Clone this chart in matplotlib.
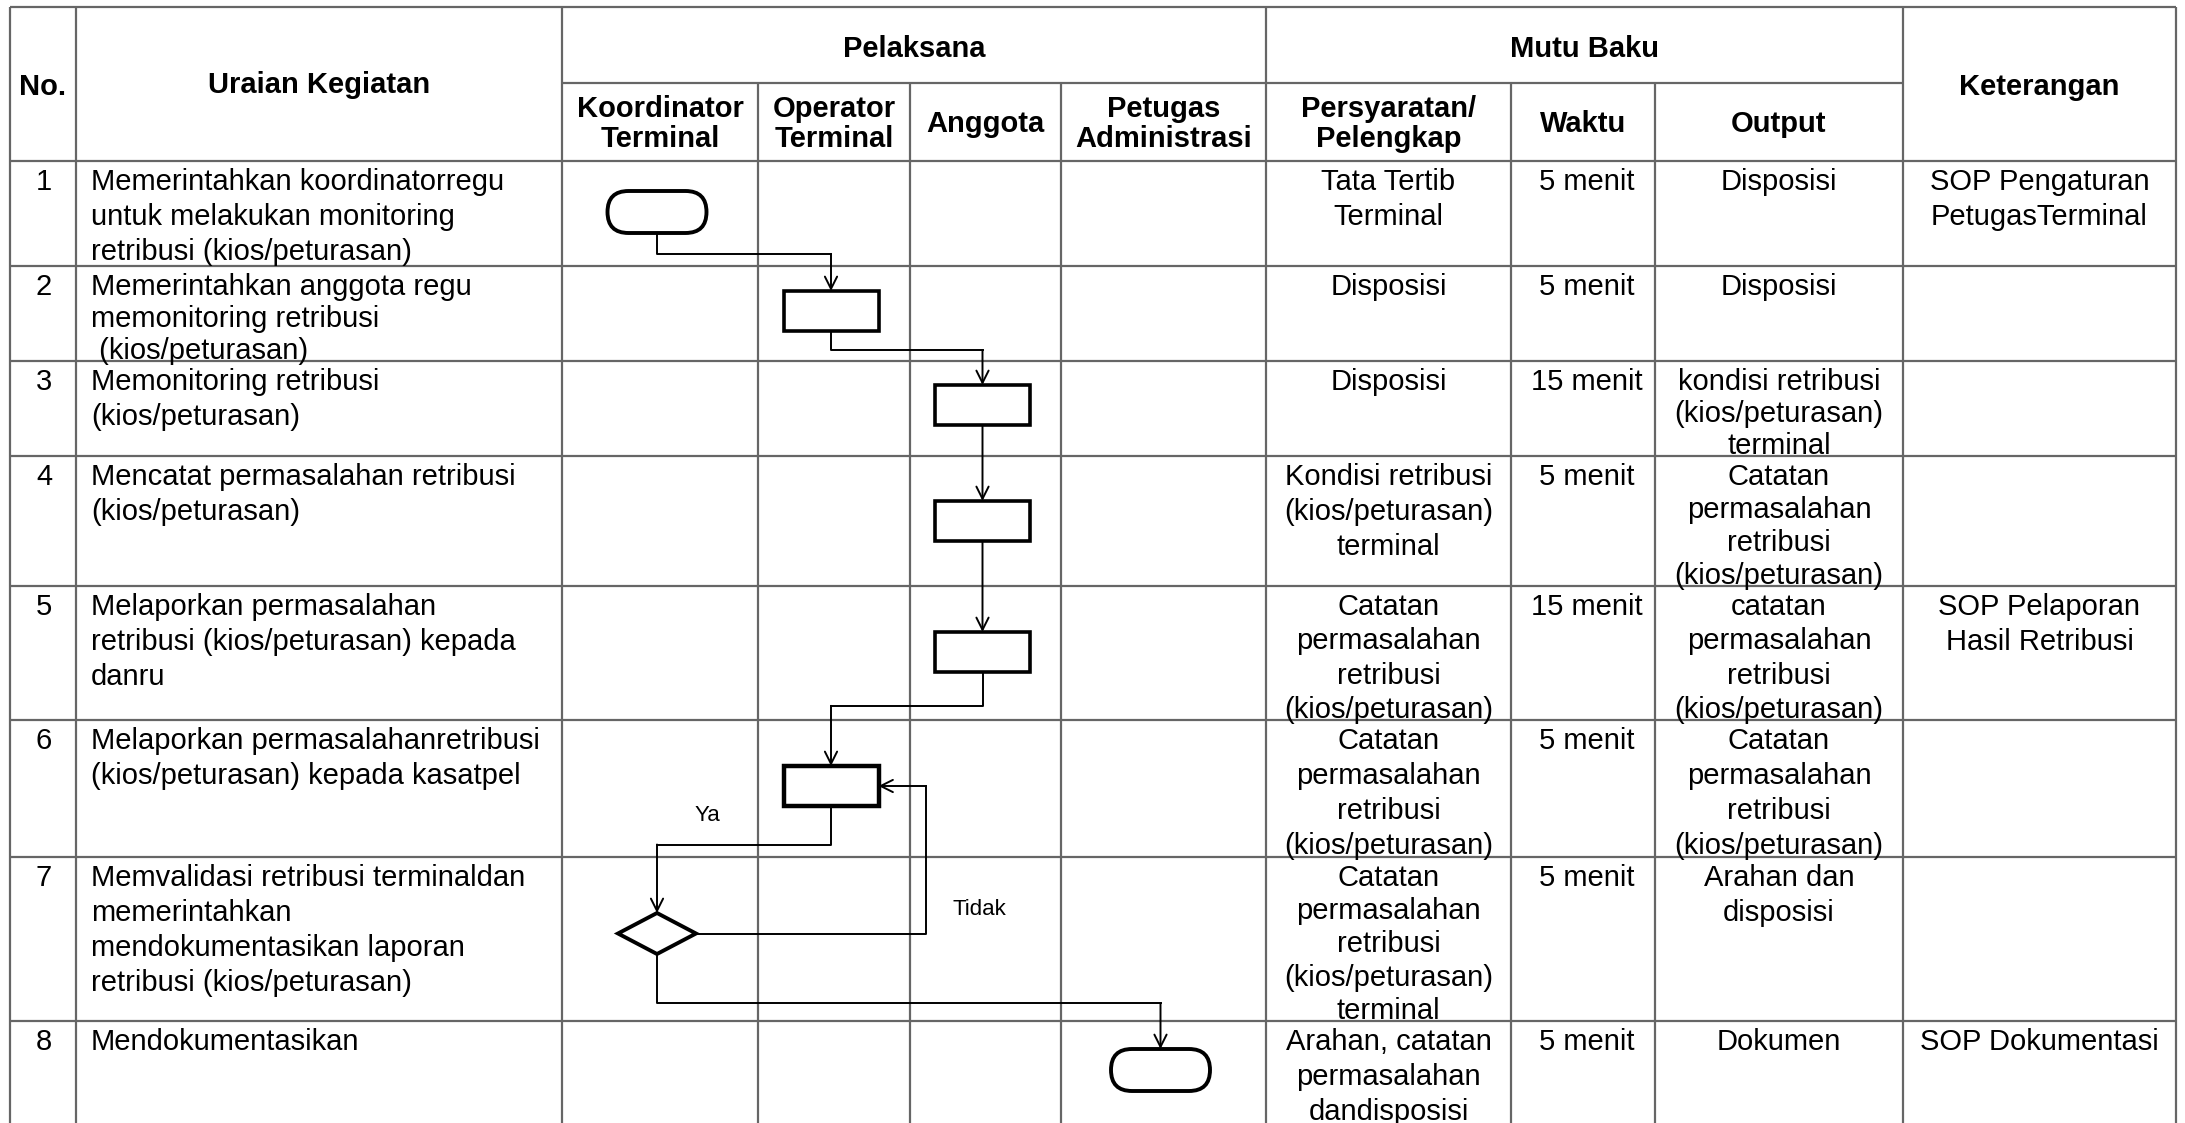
import matplotlib
matplotlib.use("Agg")
import matplotlib.pyplot as plt
from matplotlib.patches import FancyBboxPatch, Rectangle, Polygon

plt.rcParams["font.family"] = ["Liberation Sans", "DejaVu Sans"]

# ---- table content -------------------------------------------------------
STEP_NO = ["1", "2", "3", "4", "5", "6", "7", "8"]
ACTIVITY = [
    "Memerintahkan koordinatorregu\nuntuk melakukan monitoring\nretribusi (kios/peturasan)",
    "Memerintahkan anggota regu\nmemonitoring retribusi\n (kios/peturasan)",
    "Memonitoring retribusi\n(kios/peturasan)",
    "Mencatat permasalahan retribusi\n(kios/peturasan)",
    "Melaporkan permasalahan\nretribusi (kios/peturasan) kepada\ndanru",
    "Melaporkan permasalahanretribusi\n(kios/peturasan) kepada kasatpel",
    "Memvalidasi retribusi terminaldan\nmemerintahkan\nmendokumentasikan laporan\nretribusi (kios/peturasan)",
    "Mendokumentasikan",
]
REQUIREMENT = [
    "Tata Tertib\nTerminal",
    "Disposisi",
    "Disposisi",
    "Kondisi retribusi\n(kios/peturasan)\nterminal",
    "Catatan\npermasalahan\nretribusi\n(kios/peturasan)",
    "Catatan\npermasalahan\nretribusi\n(kios/peturasan)",
    "Catatan\npermasalahan\nretribusi\n(kios/peturasan)\nterminal",
    "Arahan, catatan\npermasalahan\ndandisposisi",
]
DURATION = ["5 menit", "5 menit", "15 menit", "5 menit",
            "15 menit", "5 menit", "5 menit", "5 menit"]
OUTPUT = [
    "Disposisi",
    "Disposisi",
    "kondisi retribusi\n(kios/peturasan)\nterminal",
    "Catatan\npermasalahan\nretribusi\n(kios/peturasan)",
    "catatan\npermasalahan\nretribusi\n(kios/peturasan)",
    "Catatan\npermasalahan\nretribusi\n(kios/peturasan)",
    "Arahan dan\ndisposisi",
    "Dokumen",
]
NOTE = ["SOP Pengaturan\nPetugasTerminal", "", "", "",
        "SOP Pelaporan\nHasil Retribusi", "", "", "SOP Dokumentasi"]

ACTORS = ["Koordinator\nTerminal", "Operator\nTerminal", "Anggota", "Petugas\nAdministrasi"]
MUTU = ["Persyaratan/\nPelengkap", "Waktu", "Output"]
STEP_ACTOR = [0, 1, 2, 2, 2, 1, 0, 3]          # which actor lane holds the symbol
STEP_SHAPE = ["term", "proc", "proc", "proc", "proc", "proc", "dec", "term"]

# ---- layout (pixel coords of the 2185x1123 canvas) ------------------------
W, H = 2185, 1123
XL = [10, 76, 562, 758, 910, 1061, 1266, 1511, 1655, 1903, 2176]
Y_TOP, Y_SPLIT, Y_HEAD = 7, 83, 161
ROW_TOP = [161, 266, 361, 456, 586, 720, 857, 1021]
ROW_BOT = ROW_TOP[1:] + [H + 40]
SHAPE_DY = [30, 25, 24, 45, 46, 46, 56, 28]    # symbol top offset inside its row
FS = 21
LINE = 35
GRID = "#666666"

fig = plt.figure(figsize=(W / 100, H / 100), dpi=100)
ax = fig.add_axes([0, 0, 1, 1])
ax.set_xlim(0, W)
ax.set_ylim(H, 0)
ax.axis("off")


def hline(y, x0, x1):
    ax.plot([x0, x1], [y, y], color=GRID, lw=1.6, solid_capstyle="butt")


def vline(x, y0, y1):
    ax.plot([x, x], [y0, y1], color=GRID, lw=1.6, solid_capstyle="butt")


# grid
hline(Y_TOP, XL[0], XL[-1])
hline(Y_SPLIT, XL[2], XL[9])
for y in [Y_HEAD] + ROW_TOP[1:]:
    hline(y, XL[0], XL[-1])
for i, x in enumerate(XL):
    top = Y_SPLIT if i in (3, 4, 5, 7, 8) else Y_TOP
    vline(x, top, H)


def lines_at(x, row, text, ha="center", bold=False):
    parts = text.split("\n")
    first = ROW_TOP[row] + 19
    step = LINE
    if len(parts) > 1:
        step = min(LINE, (ROW_BOT[row] - 12 - first) / (len(parts) - 1))
    for k, p in enumerate(parts):
        ax.text(x, first + k * step + 10, p, ha=ha, va="baseline", fontsize=FS,
                fontweight="bold" if bold else "normal")


def head(x, yc, text):
    parts = text.split("\n")
    n = len(parts)
    for k, p in enumerate(parts):
        yy = yc + (k - (n - 1) / 2) * 30 + 10
        ax.text(x, yy, p, ha="center", va="baseline", fontsize=FS, fontweight="bold")


# header
head((XL[0] + XL[1]) / 2, 85, "No.")
head((XL[1] + XL[2]) / 2, 83, "Uraian Kegiatan")
head((XL[2] + XL[6]) / 2, 47, "Pelaksana")
head((XL[6] + XL[9]) / 2, 47, "Mutu Baku")
head((XL[9] + XL[10]) / 2, 85, "Keterangan")
for i, a in enumerate(ACTORS):
    head((XL[2 + i] + XL[3 + i]) / 2, 122, a)
for i, m in enumerate(MUTU):
    head((XL[6 + i] + XL[7 + i]) / 2, 122, m)

# body text
for r in range(len(STEP_NO)):
    lines_at((XL[0] + XL[1]) / 2 + 1, r, STEP_NO[r])
    lines_at(XL[1] + 15, r, ACTIVITY[r], ha="left")
    lines_at((XL[6] + XL[7]) / 2, r, REQUIREMENT[r])
    lines_at((XL[7] + XL[8]) / 2 + 4, r, DURATION[r])
    lines_at((XL[8] + XL[9]) / 2, r, OUTPUT[r])
    if NOTE[r]:
        lines_at((XL[9] + XL[10]) / 2, r, NOTE[r])

# flow symbols
BW, BH = 95, 40
TW, TH = 99, 42
DW, DH = 78, 41
anchors = []
for r, (lane, shp) in enumerate(zip(STEP_ACTOR, STEP_SHAPE)):
    cx = (XL[2 + lane] + XL[3 + lane]) / 2 - 3
    top = ROW_TOP[r] + SHAPE_DY[r]
    if shp == "term":
        w, h = TW, TH
        ax.add_patch(FancyBboxPatch((cx - w / 2, top), w, h,
                                    boxstyle=f"round,pad=0,rounding_size={h / 2}",
                                    fc="white", ec="black", lw=2.8, zorder=3))
    elif shp == "proc":
        w, h = BW, BH
        ax.add_patch(Rectangle((cx - w / 2, top), w, h, fc="white", ec="black",
                               lw=3.2 if r == 5 else 2.6, zorder=3))
    else:
        w, h = DW, DH
        ax.add_patch(Polygon([(cx, top), (cx + w / 2, top + h / 2), (cx, top + h),
                              (cx - w / 2, top + h / 2)], closed=True,
                             fc="white", ec="black", lw=2.8, zorder=3))
    anchors.append(dict(cx=cx, top=top, bot=top + h, right=cx + w / 2, mid=top + h / 2))


def route(pts):
    xs = [p[0] for p in pts[:-1]]
    ys = [p[1] for p in pts[:-1]]
    ax.plot(xs, ys, color="black", lw=1.4, zorder=2)
    ax.annotate("", xy=pts[-1], xytext=pts[-2],
                arrowprops=dict(arrowstyle="->", color="black", lw=1.4,
                                shrinkA=0, shrinkB=0, mutation_scale=22), zorder=2)


def elbow(a, b, frac=0.36):
    ym = a["bot"] + frac * (b["top"] - a["bot"])
    if abs(a["cx"] - b["cx"]) < 1:
        route([(a["cx"], a["bot"]), (b["cx"], b["top"])])
    else:
        route([(a["cx"], a["bot"]), (a["cx"], ym), (b["cx"], ym), (b["cx"], b["top"])])


for r in range(6):
    elbow(anchors[r], anchors[r + 1])
elbow(anchors[6], anchors[7], frac=0.52)

# "Tidak" loop from the decision back to step 6
d, b6 = anchors[6], anchors[5]
loop_x = XL[4] + 16
route([(d["right"], d["mid"]), (loop_x, d["mid"]), (loop_x, b6["mid"]),
       (b6["right"], b6["mid"])])
ax.text(707, 821, "Ya", ha="center", va="baseline", fontsize=16)
ax.text(979, 915, "Tidak", ha="center", va="baseline", fontsize=16)

fig.savefig("out.png", dpi=100, facecolor="white")
